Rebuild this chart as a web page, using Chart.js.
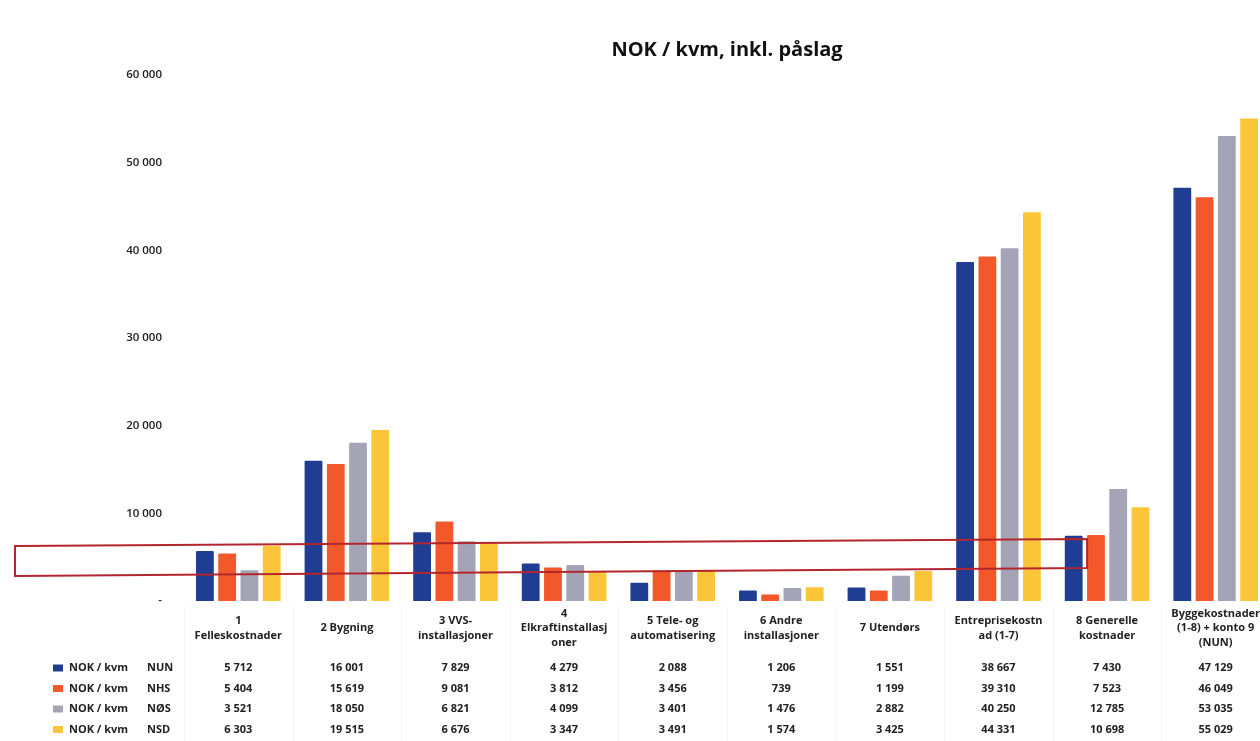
<!DOCTYPE html>
<html>
<head>
<meta charset="utf-8">
<script src="https://cdn.jsdelivr.net/npm/chart.js@4"></script>
<style>
  html, body { margin: 0; padding: 0; background: #fff; overflow: hidden; }
  #wrap { width: 1290px; height: 741px; }
</style>
</head>
<body>
<div id="wrap"><canvas id="grafico"></canvas></div>
<script>
const categories = [
  ['1', 'Felleskostnader'],
  '2 Bygning',
  ['3 VVS-', 'installasjoner'],
  ['4', 'Elkraftinstallasj', 'oner'],
  ['5 Tele- og', 'automatisering'],
  ['6 Andre', 'installasjoner'],
  '7 Utendørs',
  ['Entreprisekostn', 'ad (1-7)'],
  ['8 Generelle', 'kostnader'],
  ['Byggekostnader', '(1-8) + konto 9', '(NUN)']
];
const seriesCodes = ['NUN', 'NHS', 'NØS', 'NSD'];
const nun = [5712, 16001, 7829, 4279, 2088, 1206, 1551, 38667, 7430, 47129];
const nhs = [5404, 15619, 9081, 3812, 3456, 739, 1199, 39310, 7523, 46049];
const nos = [3521, 18050, 6821, 4099, 3401, 1476, 2882, 40250, 12785, 53035];
const nsd = [6303, 19515, 6676, 3347, 3491, 1574, 3425, 44331, 10698, 55029];
const yTicks = [0, 10000, 20000, 30000, 40000, 50000, 60000];

const farger = ['#1f3d93', '#f2582a', '#a4a4b6', '#fbc53a'];
const tabellFont = 'bold 11px "Open Sans"';

function fmt(v) {
  return String(v).replace(/\B(?=(\d{3})+(?!\d))/g, ' ');
}

// data table + legend under the chart
const tabell = {
  id: 'tabell',
  afterDraw(chart) {
    const ctx = chart.ctx;
    const xs = chart.scales.x;
    const bunn = chart.chartArea.bottom;
    ctx.save();
    // faint column lines
    ctx.strokeStyle = '#f4f4f4';
    ctx.lineWidth = 1;
    for (let j = 0; j <= categories.length; j++) {
      const x = Math.round(xs.getPixelForValue(j - 0.5)) + 0.5;
      ctx.beginPath();
      ctx.moveTo(x, bunn + 4);
      ctx.lineTo(x, chart.height);
      ctx.stroke();
    }
    ctx.font = tabellFont;
    ctx.textBaseline = 'middle';
    chart.data.datasets.forEach((ds, i) => {
      const y = bunn + 67 + i * 20.5;
      ctx.fillStyle = farger[i];
      ctx.fillRect(53, y - 3.5, 10, 7);
      ctx.fillStyle = '#222';
      ctx.textAlign = 'left';
      ctx.fillText('NOK / kvm', 69, y);
      ctx.fillText(seriesCodes[i], 147, y);
      ctx.textAlign = 'center';
      ds.data.forEach((v, j) => {
        ctx.fillText(fmt(v), xs.getPixelForValue(j), y);
      });
    });
    ctx.restore();
  }
};

// red highlight box drawn on top of the bars
const markering = {
  id: 'markering',
  afterDatasetsDraw(chart) {
    const ctx = chart.ctx;
    const xs = chart.scales.x, ys = chart.scales.y;
    const hoyre = xs.getPixelForValue(8) - 20;
    ctx.save();
    ctx.strokeStyle = '#b3262e';
    ctx.lineWidth = 2;
    ctx.beginPath();
    ctx.moveTo(15, ys.getPixelForValue(6270));
    ctx.lineTo(hoyre, ys.getPixelForValue(7070));
    ctx.lineTo(hoyre, ys.getPixelForValue(3760));
    ctx.lineTo(15, ys.getPixelForValue(2850));
    ctx.closePath();
    ctx.stroke();
    ctx.restore();
  }
};

const serier = [nun, nhs, nos, nsd];

const graph = new Chart(document.getElementById('grafico').getContext('2d'), {
  type: 'bar',
  data: {
    labels: categories,
    datasets: serier.map((d, i) => ({
      label: 'NOK / kvm  ' + seriesCodes[i],
      data: d,
      backgroundColor: farger[i],
      borderRadius: 1,
      categoryPercentage: 0.82,
      barPercentage: 0.8
    }))
  },
  options: {
    responsive: true,
    maintainAspectRatio: false,
    animation: false,
    layout: { padding: { left: 100, right: 20, top: 0, bottom: 85 } },
    plugins: {
      legend: { display: false },
      tooltip: { enabled: false },
      title: {
        display: true,
        fullSize: false,
        text: 'NOK / kvm, inkl. påslag',
        color: '#111',
        font: { family: '"Open Sans"', size: 20, weight: 'bold' },
        padding: { top: 38, bottom: 13 }
      }
    },
    scales: {
      x: {
        grid: { display: false },
        border: { display: false },
        afterFit(s) { s.height = 55; },
        ticks: {
          color: '#222',
          font: { family: '"Open Sans"', size: 11, weight: 'bold', lineHeight: 1.3 },
          padding: 5,
          crossAlign: 'center',
          maxRotation: 0,
          autoSkip: false
        }
      },
      y: {
        min: 0,
        max: 60000,
        grid: { display: false },
        border: { display: false },
        afterFit(s) { s.width = 84; },
        afterBuildTicks(s) { s.ticks = yTicks.map(v => ({ value: v })); },
        ticks: {
          color: '#222',
          font: { family: '"Open Sans"', size: 11.5, weight: '600' },
          padding: 14,
          callback: v => v === 0 ? '-' : fmt(v)
        }
      }
    }
  },
  plugins: [tabell, markering]
});
</script>
</body>
</html>
